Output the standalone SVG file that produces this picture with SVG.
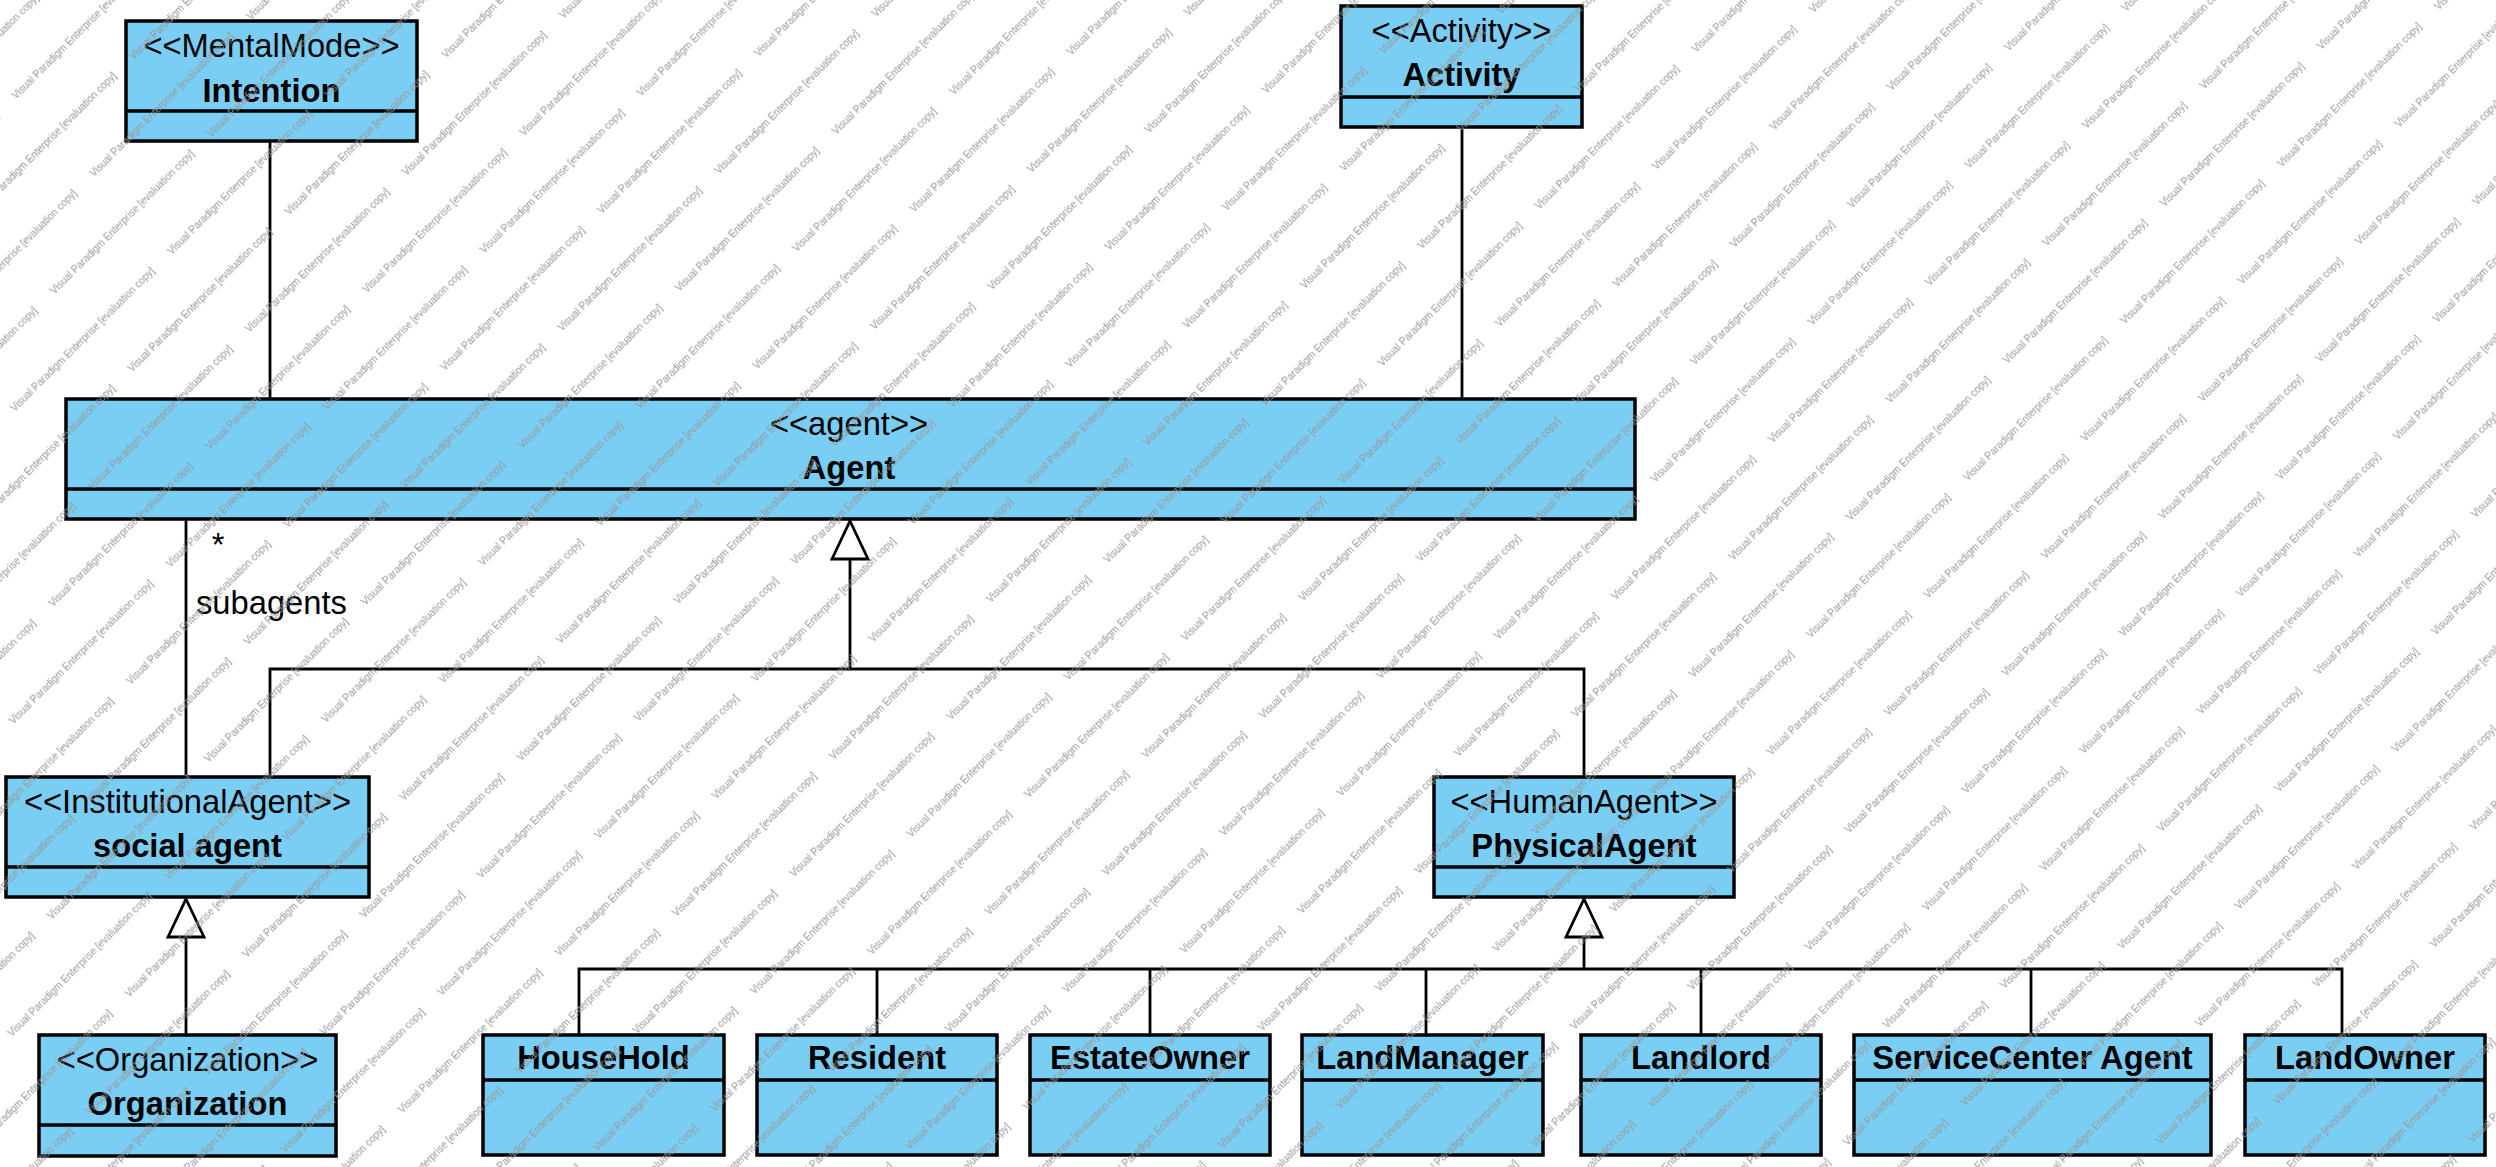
<svg xmlns="http://www.w3.org/2000/svg" width="2496" height="1167" viewBox="0 0 2496 1167">
<style>
.box{fill:#7ACEF4;stroke:#000;stroke-width:3.5}
.div{stroke:#000;stroke-width:3.5}
.st{font-family:"Liberation Sans",Arial,sans-serif;font-size:32.7px;fill:#000;text-anchor:middle}
.nm{font-family:"Liberation Sans",Arial,sans-serif;font-size:32.7px;font-weight:bold;fill:#000;text-anchor:middle}
.lbl{font-family:"Liberation Sans",Arial,sans-serif;font-size:32.7px;fill:#000}
.ln{fill:none;stroke:#000;stroke-width:2.8}
.tri{fill:#fff;stroke:#000;stroke-width:2.8;stroke-linejoin:miter}
.wm{font-family:"Liberation Sans",Arial,sans-serif;font-size:10px;fill:#969696}
</style>
<defs>
<pattern id="wmp" patternUnits="userSpaceOnUse" width="222" height="110" patternTransform="rotate(-45)">
<text class="wm" x="52" y="27">Visual Paradigm Enterprise [evaluation copy]</text>
<text class="wm" x="-170" y="27">Visual Paradigm Enterprise [evaluation copy]</text>
<text class="wm" x="163" y="82">Visual Paradigm Enterprise [evaluation copy]</text>
<text class="wm" x="-59" y="82">Visual Paradigm Enterprise [evaluation copy]</text>
</pattern>
</defs>
<rect x="0" y="0" width="2496" height="1167" fill="#fff"/>

<g id="connectors">
<line class="ln" x1="270" y1="141" x2="270" y2="399"/>
<line class="ln" x1="1462" y1="127" x2="1462" y2="399"/>
<line class="ln" x1="186" y1="519" x2="186" y2="777"/>
<polyline class="ln" points="270,777 270,669 1584,669 1584,777"/>
<line class="ln" x1="850" y1="669" x2="850" y2="559"/>
<polygon class="tri" points="850,521 868,559 832,559"/>
<line class="ln" x1="186" y1="1035" x2="186" y2="937"/>
<polygon class="tri" points="186,899 204,937 168,937"/>
<polyline class="ln" points="579,1035 579,969 2342,969 2342,1035"/>
<line class="ln" x1="1584" y1="969" x2="1584" y2="937"/>
<polygon class="tri" points="1584,899 1602,937 1566,937"/>
<line class="ln" x1="877" y1="969" x2="877" y2="1035"/>
<line class="ln" x1="1150" y1="969" x2="1150" y2="1035"/>
<line class="ln" x1="1426" y1="969" x2="1426" y2="1035"/>
<line class="ln" x1="1701" y1="969" x2="1701" y2="1035"/>
<line class="ln" x1="2031" y1="969" x2="2031" y2="1035"/>
<text class="lbl" x="218" y="556" text-anchor="middle">*</text>
<text class="lbl" x="196" y="614">subagents</text>
</g>

<g id="intention">
<rect class="box" x="126" y="21" width="291" height="120"/>
<line class="div" x1="126" y1="111" x2="417" y2="111"/>
<text class="st" x="271.5" y="57">&lt;&lt;MentalMode&gt;&gt;</text>
<text class="nm" x="271.5" y="102">Intention</text>
</g>

<g id="activity">
<rect class="box" x="1341" y="6" width="241" height="121"/>
<line class="div" x1="1341" y1="97" x2="1582" y2="97"/>
<text class="st" x="1461.5" y="42">&lt;&lt;Activity&gt;&gt;</text>
<text class="nm" x="1461.5" y="86">Activity</text>
</g>

<g id="agent">
<rect class="box" x="66" y="399" width="1569" height="120"/>
<line class="div" x1="66" y1="489" x2="1635" y2="489"/>
<text class="st" x="849" y="435">&lt;&lt;agent&gt;&gt;</text>
<text class="nm" x="849" y="479">Agent</text>
</g>

<g id="social-agent">
<rect class="box" x="6" y="777" width="363" height="120"/>
<line class="div" x1="6" y1="867" x2="369" y2="867"/>
<text class="st" x="187.5" y="813">&lt;&lt;InstitutionalAgent&gt;&gt;</text>
<text class="nm" x="187.5" y="857">social agent</text>
</g>

<g id="physical-agent">
<rect class="box" x="1434" y="777" width="300" height="120"/>
<line class="div" x1="1434" y1="867" x2="1734" y2="867"/>
<text class="st" x="1584" y="813">&lt;&lt;HumanAgent&gt;&gt;</text>
<text class="nm" x="1584" y="857">PhysicalAgent</text>
</g>

<g id="organization">
<rect class="box" x="39" y="1035" width="297" height="121"/>
<line class="div" x1="39" y1="1125" x2="336" y2="1125"/>
<text class="st" x="187.5" y="1071">&lt;&lt;Organization&gt;&gt;</text>
<text class="nm" x="187.5" y="1115">Organization</text>
</g>

<g id="household">
<rect class="box" x="483" y="1035" width="241" height="120"/>
<line class="div" x1="483" y1="1080" x2="724" y2="1080"/>
<text class="nm" x="603.5" y="1069">HouseHold</text>
</g>

<g id="resident">
<rect class="box" x="757" y="1035" width="240" height="120"/>
<line class="div" x1="757" y1="1080" x2="997" y2="1080"/>
<text class="nm" x="877" y="1069">Resident</text>
</g>

<g id="estate-owner">
<rect class="box" x="1030" y="1035" width="240" height="120"/>
<line class="div" x1="1030" y1="1080" x2="1270" y2="1080"/>
<text class="nm" x="1150" y="1069">EstateOwner</text>
</g>

<g id="land-manager">
<rect class="box" x="1302" y="1035" width="241" height="120"/>
<line class="div" x1="1302" y1="1080" x2="1543" y2="1080"/>
<text class="nm" x="1422.5" y="1069">LandManager</text>
</g>

<g id="landlord">
<rect class="box" x="1581" y="1035" width="240" height="120"/>
<line class="div" x1="1581" y1="1080" x2="1821" y2="1080"/>
<text class="nm" x="1701" y="1069">Landlord</text>
</g>

<g id="service-center-agent">
<rect class="box" x="1854" y="1035" width="357" height="120"/>
<line class="div" x1="1854" y1="1080" x2="2211" y2="1080"/>
<text class="nm" x="2032.5" y="1069">ServiceCenter Agent</text>
</g>

<g id="land-owner">
<rect class="box" x="2245" y="1035" width="240" height="120"/>
<line class="div" x1="2245" y1="1080" x2="2485" y2="1080"/>
<text class="nm" x="2365" y="1069">LandOwner</text>
</g>

<rect id="watermark" x="0" y="0" width="2496" height="1167" fill="url(#wmp)" pointer-events="none"/>
</svg>
